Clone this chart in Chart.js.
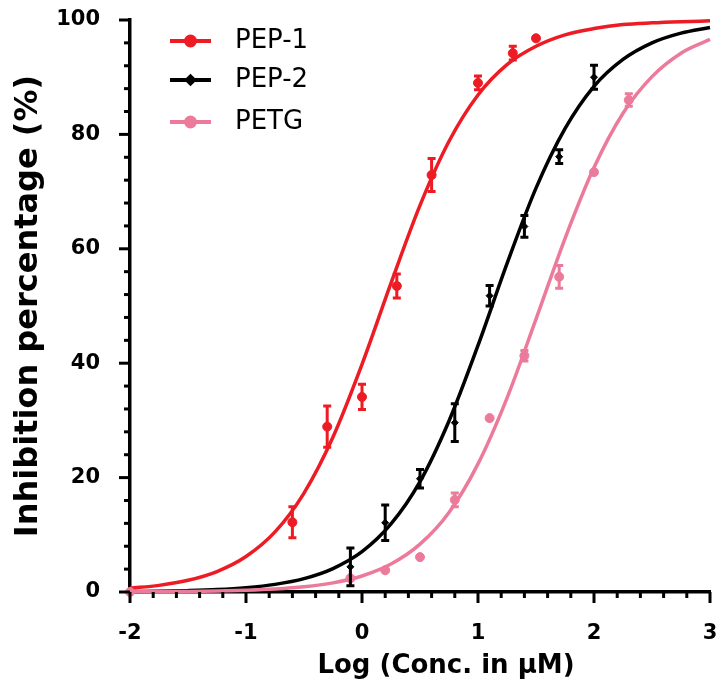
<!DOCTYPE html>
<html>
<head>
<meta charset="utf-8">
<script src="https://cdn.jsdelivr.net/npm/chart.js@4.4.1/dist/chart.umd.min.js"></script>
<style>
  html, body { margin: 0; padding: 0; background: #fff; }
</style>
</head>
<body>
<canvas id="doseChart" width="717" height="686"></canvas>
<script>
// nombres y colores de las series
const seriesNames = ['PEP-1', 'PEP-2', 'PETG'];
const seriesColors = ['#ed1c24', '#000000', '#ec7a9b'];

// puntos medidos (log conc, % inhibicion, error)
const pep1X = [-0.6, -0.3, 0, 0.3, 0.6, 1.0, 1.3, 1.5];
const pep1Y = [12.2, 28.9, 34.1, 53.5, 72.9, 89.0, 94.2, 96.8];
const pep1Err = [2.7, 3.6, 2.2, 2.1, 2.9, 1.2, 1.2, 0];

const pep2X = [-0.1, 0.2, 0.5, 0.8, 1.1, 1.4, 1.7, 2.0];
const pep2Y = [4.4, 12.1, 19.8, 29.6, 51.8, 63.9, 76.1, 90.0];
const pep2Err = [3.3, 3.1, 1.6, 3.3, 1.8, 1.9, 1.2, 2.1];

const petgX = [-2, -0.1, 0.2, 0.5, 0.8, 1.1, 1.4, 1.7, 2.0, 2.3];
const petgY = [0, 2.4, 3.8, 6.1, 16.1, 30.4, 41.3, 55.1, 73.4, 86.0];
const petgErr = [0, 0, 0, 0, 1.2, 0, 0.9, 2.0, 0, 1.1];

// curvas ajustadas
const curveX = [-2, -1.75, -1.5, -1.25, -1, -0.75, -0.5, -0.25, 0, 0.25, 0.5,
                0.75, 1, 1.25, 1.5, 1.75, 2, 2.25, 2.5, 2.75, 3];
const pep1Fit = [0.66, 1.16, 2.05, 3.58, 6.2, 10.5, 17.3, 27.1, 39.8, 54.0, 67.6,
                 78.8, 86.9, 92.2, 95.4, 97.4, 98.5, 99.2, 99.5, 99.7, 99.85];
const pep2Fit = [0.08, 0.13, 0.24, 0.42, 0.75, 1.33, 2.34, 4.1, 7.05, 11.9, 19.3,
                 29.9, 43.1, 57.4, 70.6, 81.0, 88.4, 93.1, 96.0, 97.7, 98.7];
const petgFit = [0.03, 0.05, 0.09, 0.16, 0.29, 0.51, 0.9, 1.6, 2.8, 4.88, 8.36,
                 13.9, 22.4, 33.9, 47.7, 61.8, 74.2, 83.7, 90.1, 94.2, 96.6];

const markerStyles = ['circle', 'rectRot', 'circle'];
const markerSizes = [4.5, 3.5, 4.5];

const toPoints = (xs, ys) => xs.map((x, i) => ({ x: x, y: ys[i] }));

const tickFont = { family: "'DejaVu Sans', sans-serif", size: 21, weight: 'bold' };

// barras de error
const errorBars = {
  id: 'errorBars',
  afterDatasetsDraw(chart) {
    const { ctx, scales: { x, y } } = chart;
    chart.data.datasets.forEach(ds => {
      if (!ds.errors) return;
      ctx.save();
      ctx.strokeStyle = ds.borderColor;
      ctx.lineWidth = 3;
      ds.data.forEach((p, i) => {
        const e = ds.errors[i];
        if (!e) return;
        const px = x.getPixelForValue(p.x);
        const top = y.getPixelForValue(p.y + e);
        const bot = y.getPixelForValue(p.y - e);
        ctx.beginPath();
        ctx.moveTo(px, top); ctx.lineTo(px, bot);
        ctx.moveTo(px - 4, top); ctx.lineTo(px + 4, top);
        ctx.moveTo(px - 4, bot); ctx.lineTo(px + 4, bot);
        ctx.stroke();
      });
      ctx.restore();
    });
  }
};

// marcas mayores y menores en los ejes
const axisTicks = {
  id: 'axisTicks',
  afterDraw(chart) {
    const { ctx, chartArea, scales: { x, y } } = chart;
    ctx.save();
    ctx.strokeStyle = '#000';
    ctx.lineWidth = 3;
    for (let i = 0; i <= 25; i++) {
      const px = x.getPixelForValue(-2 + i * 0.2);
      const len = i % 5 === 0 ? 11 : 6;
      ctx.beginPath();
      ctx.moveTo(px, chartArea.bottom);
      ctx.lineTo(px, chartArea.bottom + len);
      ctx.stroke();
    }
    for (let i = 0; i <= 25; i++) {
      const py = y.getPixelForValue(i * 4);
      const len = i % 5 === 0 ? 11 : 6;
      ctx.beginPath();
      ctx.moveTo(chartArea.left, py);
      ctx.lineTo(chartArea.left - len, py);
      ctx.stroke();
    }
    ctx.restore();
  }
};

// leyenda con linea y marcador
const lineLegend = {
  id: 'lineLegend',
  afterDraw(chart) {
    const ctx = chart.ctx;
    const rows = [41, 80, 122];
    ctx.save();
    seriesNames.forEach((name, i) => {
      const yy = rows[i];
      ctx.strokeStyle = seriesColors[i];
      ctx.fillStyle = seriesColors[i];
      ctx.lineWidth = 4;
      ctx.beginPath();
      ctx.moveTo(170, yy);
      ctx.lineTo(211, yy);
      ctx.stroke();
      Chart.helpers.drawPoint(ctx, { pointStyle: markerStyles[i], radius: markerSizes[i], borderWidth: 1 }, 190.5, yy);
      ctx.fillStyle = '#000';
      ctx.font = "26px 'DejaVu Sans', sans-serif";
      ctx.textBaseline = 'middle';
      ctx.textAlign = 'left';
      ctx.fillText(name, 235, yy);
    });
    ctx.restore();
  }
};

// titulo del eje x
const xAxisTitle = {
  id: 'xAxisTitle',
  afterDraw(chart) {
    const ctx = chart.ctx;
    ctx.save();
    ctx.fillStyle = '#000';
    ctx.font = "bold 26px 'DejaVu Sans', sans-serif";
    ctx.textAlign = 'center';
    ctx.textBaseline = 'middle';
    ctx.fillText('Log (Conc. in \u03bcM)', 446, 666);
    ctx.restore();
  }
};

const pointSets = [toPoints(pep1X, pep1Y), toPoints(pep2X, pep2Y), toPoints(petgX, petgY)];
const errSets = [pep1Err, pep2Err, petgErr];
const fitSets = [toPoints(curveX, pep1Fit), toPoints(curveX, pep2Fit), toPoints(curveX, petgFit)];

const datasets = [];
[2, 1, 0].forEach(i => {
  datasets.push({
    type: 'scatter',
    label: seriesNames[i],
    data: pointSets[i],
    errors: errSets[i],
    pointStyle: markerStyles[i],
    pointRadius: markerSizes[i],
    backgroundColor: seriesColors[i],
    borderColor: seriesColors[i],
    borderWidth: 1,
    clip: false
  });
  datasets.push({
    type: 'line',
    label: seriesNames[i] + ' fit',
    data: fitSets[i],
    borderColor: seriesColors[i],
    borderWidth: 3.5,
    pointRadius: 0,
    cubicInterpolationMode: 'monotone',
    fill: false,
    clip: false
  });
});

const ctx = document.getElementById('doseChart').getContext('2d');
new Chart(ctx, {
  type: 'scatter',
  data: { datasets: datasets },
  options: {
    responsive: false,
    animation: false,
    devicePixelRatio: 1,
    layout: { padding: { top: 20, right: 7, left: 0, bottom: 0 } },
    plugins: {
      legend: { display: false },
      tooltip: { enabled: false }
    },
    scales: {
      x: {
        type: 'linear',
        min: -2,
        max: 3,
        ticks: { stepSize: 1, font: tickFont, color: '#000', padding: 29 },
        grid: { display: false, drawTicks: false },
        border: { color: '#000', width: 3.5 },
        afterFit: s => { s.height = 94; s.paddingLeft = 0; s.paddingRight = 0; }
      },
      y: {
        min: 0,
        max: 100,
        ticks: { stepSize: 20, font: tickFont, color: '#000', padding: 30 },
        grid: { display: false, drawTicks: false },
        border: { color: '#000', width: 3.5 },
        title: {
          display: true,
          text: 'Inhibition percentage (%)',
          color: '#000',
          font: { family: "'DejaVu Sans', sans-serif", size: 32, weight: 'bold' },
          padding: { top: 9, bottom: 0 }
        },
        afterFit: s => { s.width = 130; s.paddingTop = 0; s.paddingBottom = 0; }
      }
    }
  },
  plugins: [errorBars, axisTicks, lineLegend, xAxisTitle]
});
</script>
</body>
</html>
